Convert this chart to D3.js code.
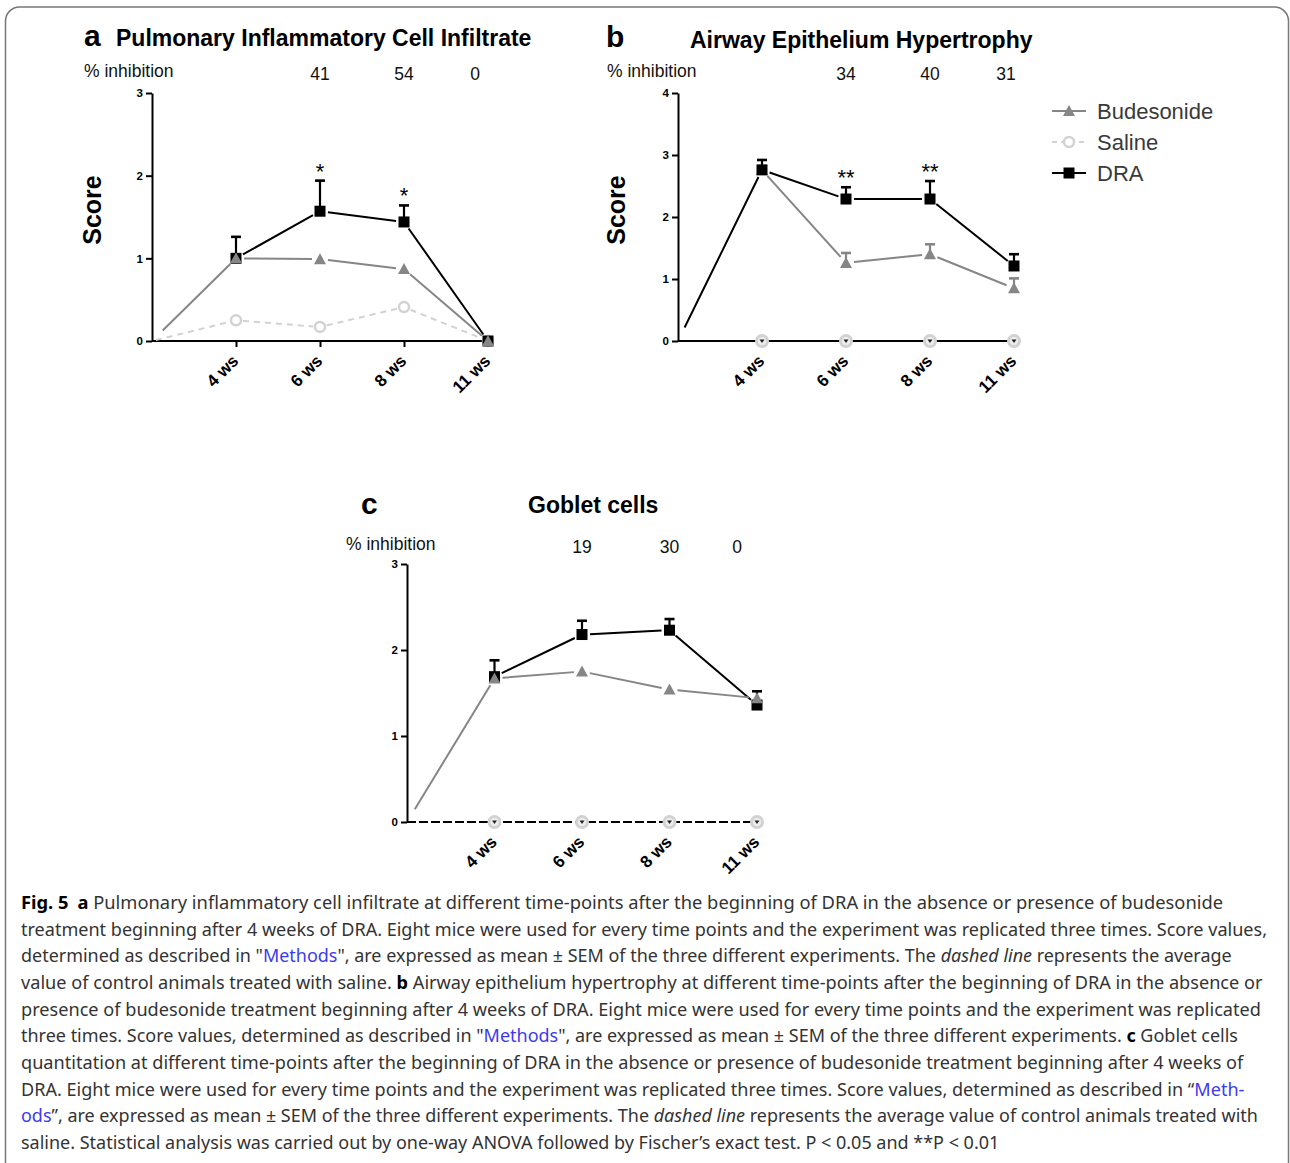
<!DOCTYPE html>
<html>
<head>
<meta charset="utf-8">
<script src="https://cdn.jsdelivr.net/npm/d3@7"></script>
<style>
  body { margin: 0; background: #fff; }
  text { font-family: "Liberation Sans", Arial, sans-serif; }
</style>
</head>
<body>
<script>
// ---- data ----
const weeks = ["4 ws", "6 ws", "8 ws", "11 ws"];
const seriesNames = ["Budesonide", "Saline", "DRA"];

// a: pulmonary inflammatory cell infiltrate
const infDRA = [1.00, 1.57, 1.44, 0.00];
const infDRAErr = [0.26, 0.37, 0.20, 0];
const infBud = [1.00, 0.99, 0.87, 0.00];
const infBudErr = [0, 0, 0, 0];
const infSal = [0.25, 0.17, 0.41, 0.00];
const infInhib = ["", "41", "54", "0"];
const infStars = ["", "*", "*", ""];

// b: airway epithelium hypertrophy
const hypDRA = [2.76, 2.29, 2.29, 1.21];
const hypDRAErr = [0.16, 0.19, 0.29, 0.19];
const hypBud = [2.76, 1.26, 1.40, 0.85];
const hypBudErr = [0, 0.16, 0.16, 0.16];
const hypSal = [0, 0, 0, 0];
const hypInhib = ["", "34", "40", "31"];
const hypStars = ["", "**", "**", ""];

// c: goblet cells
const gobDRA = [1.69, 2.18, 2.23, 1.36];
const gobDRAErr = [0.19, 0.16, 0.13, 0.16];
const gobBud = [1.67, 1.75, 1.54, 1.44];
const gobBudErr = [0, 0, 0, 0];
const gobSal = [0, 0, 0, 0];
const gobInhib = ["", "19", "30", "0"];
const gobStars = ["", "", "", ""];

// ---- styles ----
const style = {
  Budesonide: { color: "#868686", marker: "tri", dash: null },
  Saline: { color: "#d2d2d2", marker: "circ", dash: "6,5" },
  DRA: { color: "#000", marker: "sq", dash: null }
};

const svg = d3.select("body").append("svg")
  .attr("width", 1290).attr("height", 1163);

// figure frame
svg.append("rect")
  .attr("x", 5.5).attr("y", 7).attr("width", 1283).attr("height", 1175)
  .attr("rx", 14)
  .attr("fill", "none").attr("stroke", "#777").attr("stroke-width", 1.5);

function drawMarker(g, type, cx, cy, color, dot) {
  if (type === "tri") {
    g.append("path")
      .attr("d", `M${cx},${cy - 6}L${cx + 6},${cy + 5}L${cx - 6},${cy + 5}Z`)
      .attr("fill", color);
  } else if (type === "sq") {
    g.append("rect")
      .attr("x", cx - 5.5).attr("y", cy - 5.5).attr("width", 11).attr("height", 11)
      .attr("fill", color);
  } else {
    g.append("circle")
      .attr("cx", cx).attr("cy", cy).attr("r", dot ? 5.5 : 5)
      .attr("fill", dot ? "#eeeeee" : "#fff").attr("stroke", color).attr("stroke-width", dot ? 3 : 2.5);
    if (dot) {
      g.append("path")
        .attr("d", `M${cx - 2.5},${cy - 1.5}L${cx + 2.5},${cy - 1.5}L${cx},${cy + 2}Z`)
        .attr("fill", "#222");
    }
  }
}

// segment path with small gaps around the markers, like the original plot
function gappedPath(pts, gaps) {
  let d = "";
  for (let i = 0; i < pts.length - 1; i++) {
    const a = pts[i], b = pts[i + 1];
    const dx = b[0] - a[0], dy = b[1] - a[1];
    const len = Math.hypot(dx, dy);
    const g0 = gaps[i], g1 = gaps[i + 1];
    if (len <= g0 + g1) continue;
    const ux = dx / len, uy = dy / len;
    d += `M${a[0] + ux * g0},${a[1] + uy * g0}L${b[0] - ux * g1},${b[1] - uy * g1}`;
  }
  return d;
}

function drawPanel(p) {
  const g = svg.append("g");
  const x = d3.scalePoint().domain(["start"].concat(weeks)).range([p.x0, p.x1]);
  const y = d3.scaleLinear().domain([0, p.yMax]).range([p.yBot, p.yTop]);

  // titles
  g.append("text").attr("x", p.letterX).attr("y", p.letterY)
    .attr("font-size", 30).attr("font-weight", "bold").text(p.letter);
  g.append("text").attr("x", p.titleX).attr("y", p.titleY)
    .attr("font-size", 23).attr("font-weight", "bold").text(p.title);

  // % inhibition row
  g.append("text").attr("x", p.inhibX).attr("y", p.inhibY)
    .attr("font-size", 17.5).attr("fill", "#111").text("% inhibition");
  weeks.forEach((w, i) => {
    if (!p.inhib[i]) return;
    g.append("text")
      .attr("x", x(w) + (i === weeks.length - 1 ? p.lastShift : 0))
      .attr("y", p.inhibY + 3)
      .attr("text-anchor", "middle").attr("font-size", 17.5).attr("fill", "#111")
      .text(p.inhib[i]);
  });

  // y axis
  const yAxis = d3.axisLeft(y).tickValues(d3.range(0, p.yMax + 1))
    .tickSize(6).tickSizeOuter(0).tickPadding(3).tickFormat(d3.format("d"));
  const ya = g.append("g").attr("transform", `translate(${p.x0},0)`).call(yAxis);
  ya.selectAll("path, line").attr("stroke", "#000").attr("stroke-width", 2);
  ya.selectAll("text").attr("font-size", 11.5).attr("font-weight", "bold")
    .style("font-family", "Liberation Sans, Arial, sans-serif");

  // x axis
  const xAxis = d3.axisBottom(x).tickValues(weeks).tickSize(6).tickSizeOuter(0);
  const xa = g.append("g").attr("transform", `translate(0,${p.yBot})`).call(xAxis);
  xa.selectAll("path, line").attr("stroke", "#000").attr("stroke-width", 2);
  xa.select(".domain").attr("d", `M${p.x0},0H${p.x1 + 5}`);
  if (p.axisDash) xa.select(".domain").attr("stroke-dasharray", p.axisDash).attr("stroke-width", 2.2);
  xa.selectAll("text")
    .attr("x", 0).attr("y", 0).attr("dy", 0)
    .attr("transform", "translate(3,21) rotate(-45)")
    .style("text-anchor", "end")
    .attr("font-size", 17).attr("font-weight", "bold").attr("fill", "#000")
    .style("font-family", "Liberation Sans, Arial, sans-serif");

  // y label
  if (p.scoreX) {
    g.append("text")
      .attr("transform", `translate(${p.scoreX},210) rotate(-90)`)
      .attr("text-anchor", "middle").attr("font-size", 25).attr("font-weight", "bold")
      .text("Score");
  }

  // series
  p.order.forEach(name => {
    const s = p.series[name];
    const st = style[name];
    const lineColor = (name === "Saline" && p.salineLine) ? p.salineLine : st.color;
    const dash = (name === "Saline" && p.salineDash) ? p.salineDash : st.dash;
    let pts = weeks.map((w, i) => [x(w), y(s.v[i])]);
    let gaps = weeks.map(() => name === "Saline" ? 7 : 8);
    if (p.fromOrigin.includes(name)) {
      pts = [[x("start"), y(0)]].concat(pts);
      gaps = [name === "Saline" ? 4 : 15].concat(gaps);
    }
    g.append("path")
      .attr("d", gappedPath(pts, gaps))
      .attr("fill", "none").attr("stroke", lineColor).attr("stroke-width", 2)
      .attr("stroke-dasharray", dash);

    weeks.forEach((w, i) => {
      const e = s.e ? s.e[i] : 0;
      if (e > 0) {
        const cx = x(w), top = y(s.v[i] + e);
        g.append("line").attr("x1", cx).attr("x2", cx).attr("y1", y(s.v[i])).attr("y2", top)
          .attr("stroke", st.color).attr("stroke-width", 2.2);
        g.append("line").attr("x1", cx - 5).attr("x2", cx + 5).attr("y1", top).attr("y2", top)
          .attr("stroke", st.color).attr("stroke-width", 2.6);
      }
    });
    weeks.forEach((w, i) => {
      drawMarker(g, st.marker, x(w), y(s.v[i]), st.color, name === "Saline" && p.salineDot);
    });
  });

  // significance stars over DRA error bars
  weeks.forEach((w, i) => {
    if (!p.stars[i]) return;
    const d = p.series.DRA;
    g.append("text")
      .attr("x", x(w)).attr("y", y(d.v[i] + d.e[i]) - 2)
      .attr("text-anchor", "middle").attr("font-size", 22).text(p.stars[i]);
  });
}

drawPanel({
  letter: "a", letterX: 84, letterY: 46,
  title: "Pulmonary Inflammatory Cell Infiltrate", titleX: 116, titleY: 46,
  inhibX: 84, inhibY: 77, inhib: infInhib, lastShift: -13, stars: infStars,
  x0: 152, x1: 488, yTop: 93, yBot: 341, yMax: 3, scoreX: 101,
  order: ["Saline", "DRA", "Budesonide"], fromOrigin: ["Saline", "Budesonide"],
  series: {
    DRA: { v: infDRA, e: infDRAErr },
    Budesonide: { v: infBud, e: infBudErr },
    Saline: { v: infSal }
  }
});

drawPanel({
  letter: "b", letterX: 606, letterY: 47,
  title: "Airway Epithelium Hypertrophy", titleX: 690, titleY: 48,
  inhibX: 607, inhibY: 77, inhib: hypInhib, lastShift: -8, stars: hypStars,
  x0: 678, x1: 1014, yTop: 93, yBot: 341, yMax: 4, scoreX: 625,
  order: ["Saline", "Budesonide", "DRA"], fromOrigin: ["DRA"],
  salineDot: true, salineLine: "#000", salineDash: "none",
  series: {
    DRA: { v: hypDRA, e: hypDRAErr },
    Budesonide: { v: hypBud, e: hypBudErr },
    Saline: { v: hypSal }
  }
});

drawPanel({
  letter: "c", letterX: 361, letterY: 514,
  title: "Goblet cells", titleX: 528, titleY: 513,
  inhibX: 346, inhibY: 550, inhib: gobInhib, lastShift: -20, stars: gobStars,
  x0: 407, x1: 757, yTop: 564, yBot: 822, yMax: 3, scoreX: null,
  order: ["Saline", "DRA", "Budesonide"], fromOrigin: ["Budesonide"],
  salineDot: true, salineLine: "none", salineDash: "none",
  axisDash: "9,3",
  series: {
    DRA: { v: gobDRA, e: gobDRAErr },
    Budesonide: { v: gobBud, e: gobBudErr },
    Saline: { v: gobSal }
  }
});

// legend
const legendY = [111, 142, 173];
seriesNames.forEach((name, i) => {
  const st = style[name];
  const lg = svg.append("g");
  lg.append("line").attr("x1", 1052).attr("x2", 1086).attr("y1", legendY[i]).attr("y2", legendY[i])
    .attr("stroke", st.color).attr("stroke-width", 2).attr("stroke-dasharray", name === "Saline" ? "5,4" : null);
  drawMarker(lg, st.marker, 1069, legendY[i], st.color, false);
  lg.append("text").attr("x", 1097).attr("y", legendY[i] + 8)
    .attr("font-size", 22).attr("fill", "#3a3a3a").text(name);
});

// caption
const captionLines = [
  [["Fig. 5", "b"], ["a", "b", 9], [" Pulmonary inflammatory cell infiltrate at different time-points after the beginning of DRA in the absence or presence of budesonide", ""]],
  [["treatment beginning after 4 weeks of DRA. Eight mice were used for every time points and the experiment was replicated three times. Score values,", ""]],
  [["determined as described in \"", ""], ["Methods", "l"], ["\", are expressed as mean \u00b1 SEM of the three different experiments. The ", ""], ["dashed line", "i"], [" represents the average", ""]],
  [["value of control animals treated with saline. ", ""], ["b", "b"], [" Airway epithelium hypertrophy at different time-points after the beginning of DRA in the absence or", ""]],
  [["presence of budesonide treatment beginning after 4 weeks of DRA. Eight mice were used for every time points and the experiment was replicated", ""]],
  [["three times. Score values, determined as described in \"", ""], ["Methods", "l"], ["\", are expressed as mean \u00b1 SEM of the three different experiments. ", ""], ["c", "b"], [" Goblet cells", ""]],
  [["quantitation at different time-points after the beginning of DRA in the absence or presence of budesonide treatment beginning after 4 weeks of", ""]],
  [["DRA. Eight mice were used for every time points and the experiment was replicated three times. Score values, determined as described in \u201c", ""], ["Meth-", "l"]],
  [["ods", "l"], ["\u201d, are expressed as mean \u00b1 SEM of the three different experiments. The ", ""], ["dashed line", "i"], [" represents the average value of control animals treated with", ""]],
  [["saline. Statistical analysis was carried out by one-way ANOVA followed by Fischer\u2019s exact test. P < 0.05 and **P < 0.01", ""]]
];
const captionEnds = [1215, 1268, 1233, 1263, 1262, 1239, 1244, 1246, 1259, 1000];

// each line is squeezed horizontally to the width it has in the figure
captionLines.forEach((parts, i) => {
  const t = svg.append("text")
    .attr("x", 0).attr("y", 0)
    .style("font-family", "'Noto Sans', 'Open Sans', sans-serif")
    .attr("font-size", 18.5).attr("fill", "#333");
  parts.forEach(([txt, kind, dx]) => {
    const ts = t.append("tspan").text(txt);
    if (dx) ts.attr("dx", dx);
    if (kind === "b") ts.attr("font-weight", "bold").attr("fill", "#000");
    if (kind === "i") ts.attr("font-style", "italic");
    if (kind === "l") ts.attr("fill", "#3b3bf0");
  });
  const natural = t.node().getComputedTextLength();
  const sx = (captionEnds[i] - 21) / natural;
  t.attr("transform", `translate(21,${909 + i * 26.67}) scale(${sx},1)`);
});
</script>
</body>
</html>
